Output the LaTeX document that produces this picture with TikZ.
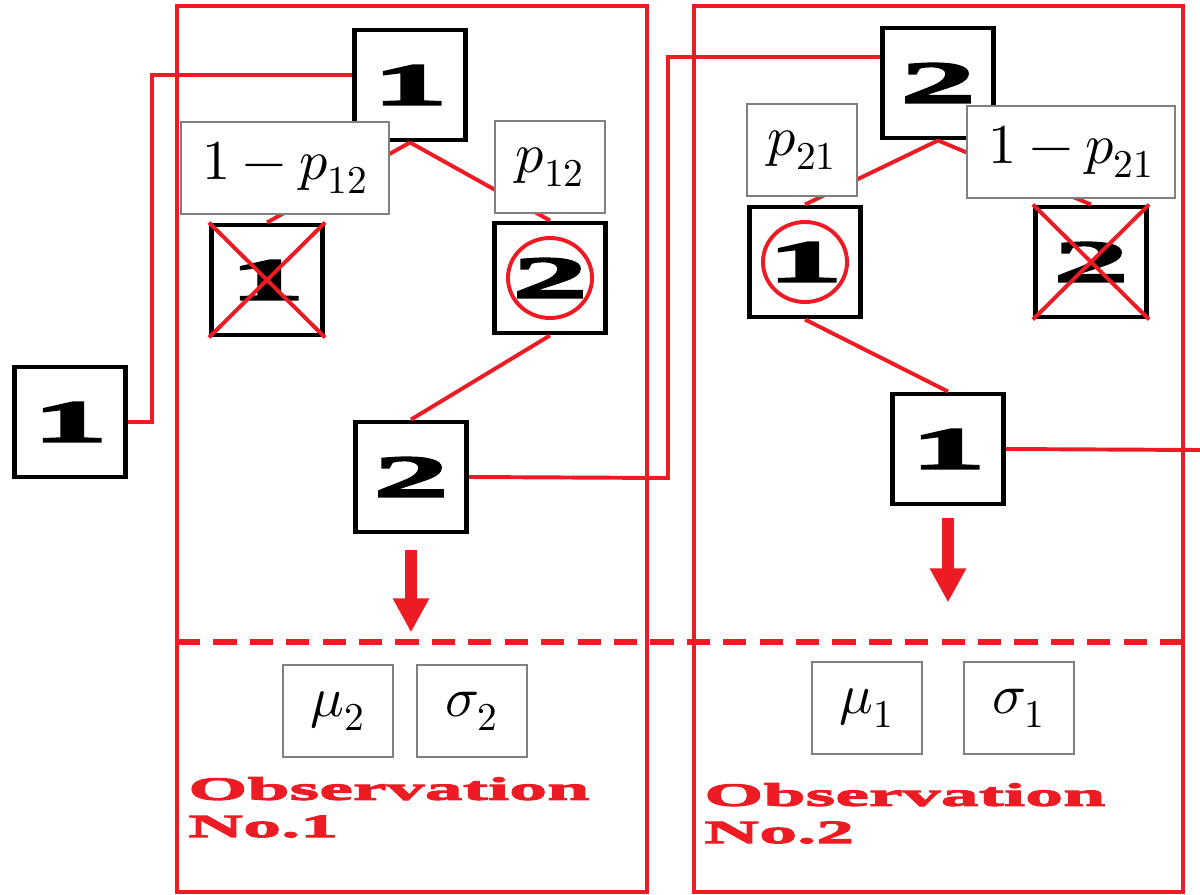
\documentclass[tikz,border=0pt]{standalone}
\usepackage{unicode-math}
\setmathfont{Latin Modern Math}
\usetikzlibrary{arrows.meta}
\definecolor{obsred}{HTML}{ED1C24}
\newfontfamily\heavyfont[FakeStretch=2.6,FakeBold=3.5]{Liberation Serif}
\newfontfamily\obsfont[FakeStretch=2.35,FakeBold=3.5]{Liberation Serif}

\begin{document}
\begin{tikzpicture}[x=0.025cm,y=-0.025cm,
    state/.style={draw,line width=3.5pt,fill=white,minimum width=2.78cm,minimum height=2.75cm,
                  inner sep=0pt,font=\heavyfont\bfseries\fontsize{42}{42}\selectfont},
    prob/.style={draw=gray,fill=white,line width=0.8pt,minimum width=2.75cm,minimum height=2.3cm,
                 inner sep=0pt,font=\fontsize{40}{44}\selectfont},
    link/.style={draw=obsred,line width=2.8pt},
    panel/.style={draw=obsred,line width=3pt},
    down/.style={obsred,line width=0.3cm,-{Triangle[width=0.85cm,length=0.85cm]}},
    obs/.style={text=obsred,align=left,anchor=north west,inner sep=0pt,
                font=\obsfont\bfseries\fontsize{23}{26.5}\selectfont}]

  \useasboundingbox (0,0) rectangle (1200,894);

  % the two observation panels
  \draw[panel] (177,6) rectangle (647,892);
  \draw[panel] (694,6) rectangle (1183,892);
  \draw[link,line width=4pt,dash pattern=on 0.58cm off 0.33cm] (177,642) -- (1183,642);

  % states
  \node[state] (o1)  at (70,422)  {1};
  \node[state] (t1)  at (410,85)  {1};
  \node[state] (c11) at (267,280) {1};
  \node[state] (c12) at (550,278) {2};
  \node[state] (b2)  at (411,477) {2};
  \node[state] (t2)  at (938,83)  {2};
  \node[state] (c21) at (805,262) {1};
  \node[state] (c22) at (1091,262) {2};
  \node[state] (b1)  at (948,449) {1};
  \coordinate (exit) at (1200,450);

  % transitions
  \draw[link] (o1.east) -- ++(24,0) |- ([yshift=0.25cm]t1.west);
  \draw[link] (t1.south) edge (c11.north)
                         edge (c12.north)
              (c12.south) edge (b2.north);
  \draw[link] (b2.east) -- (668,478) |- ([yshift=0.65cm]t2.west);
  \draw[link] (t2.south) edge (c21.north)
                         edge (c22.north)
              (c21.south) edge (b1.north);
  \draw[link] (b1.east) -- (exit);

  % rejected and chosen states
  \draw[link] (c11.north west) -- (c11.south east)
              (c11.south west) -- (c11.north east);
  \draw[link] (c22.north west) -- (c22.south east)
              (c22.south west) -- (c22.north east);
  \draw[link] (c12.center) ellipse (1.05cm and 1cm);
  \draw[link] (c21.center) ellipse (1.05cm and 1cm);

  % probabilities
  \node[prob,minimum width=5.2cm] (q12) at (285,168) {$1-p_{12}$};
  \node[prob] (p12) at (550,167)  {$p_{12}$};
  \node[prob] (p21) at (802,150)  {$p_{21}$};
  \node[prob,minimum width=5.2cm] (q21) at (1071,152) {$1-p_{21}$};

  % emissions
  \draw[down] (b2.south) ++(0,16) -- ++(0,82);
  \draw[down] (b1.south) ++(0,12) -- ++(0,84);
  \node[prob] (mu2) at (338,711) {$\mu_2$};
  \node[prob] (sg2) at (472,711) {$\sigma_2$};
  \node[prob] (mu1) at (867,708) {$\mu_1$};
  \node[prob] (sg1) at (1019,708) {$\sigma_1$};

  \node[obs] (obs1) at (188,777) {Observation\\No.1};
  \node[obs] (obs2) at (704,783) {Observation\\No.2};
\end{tikzpicture}
\end{document}
